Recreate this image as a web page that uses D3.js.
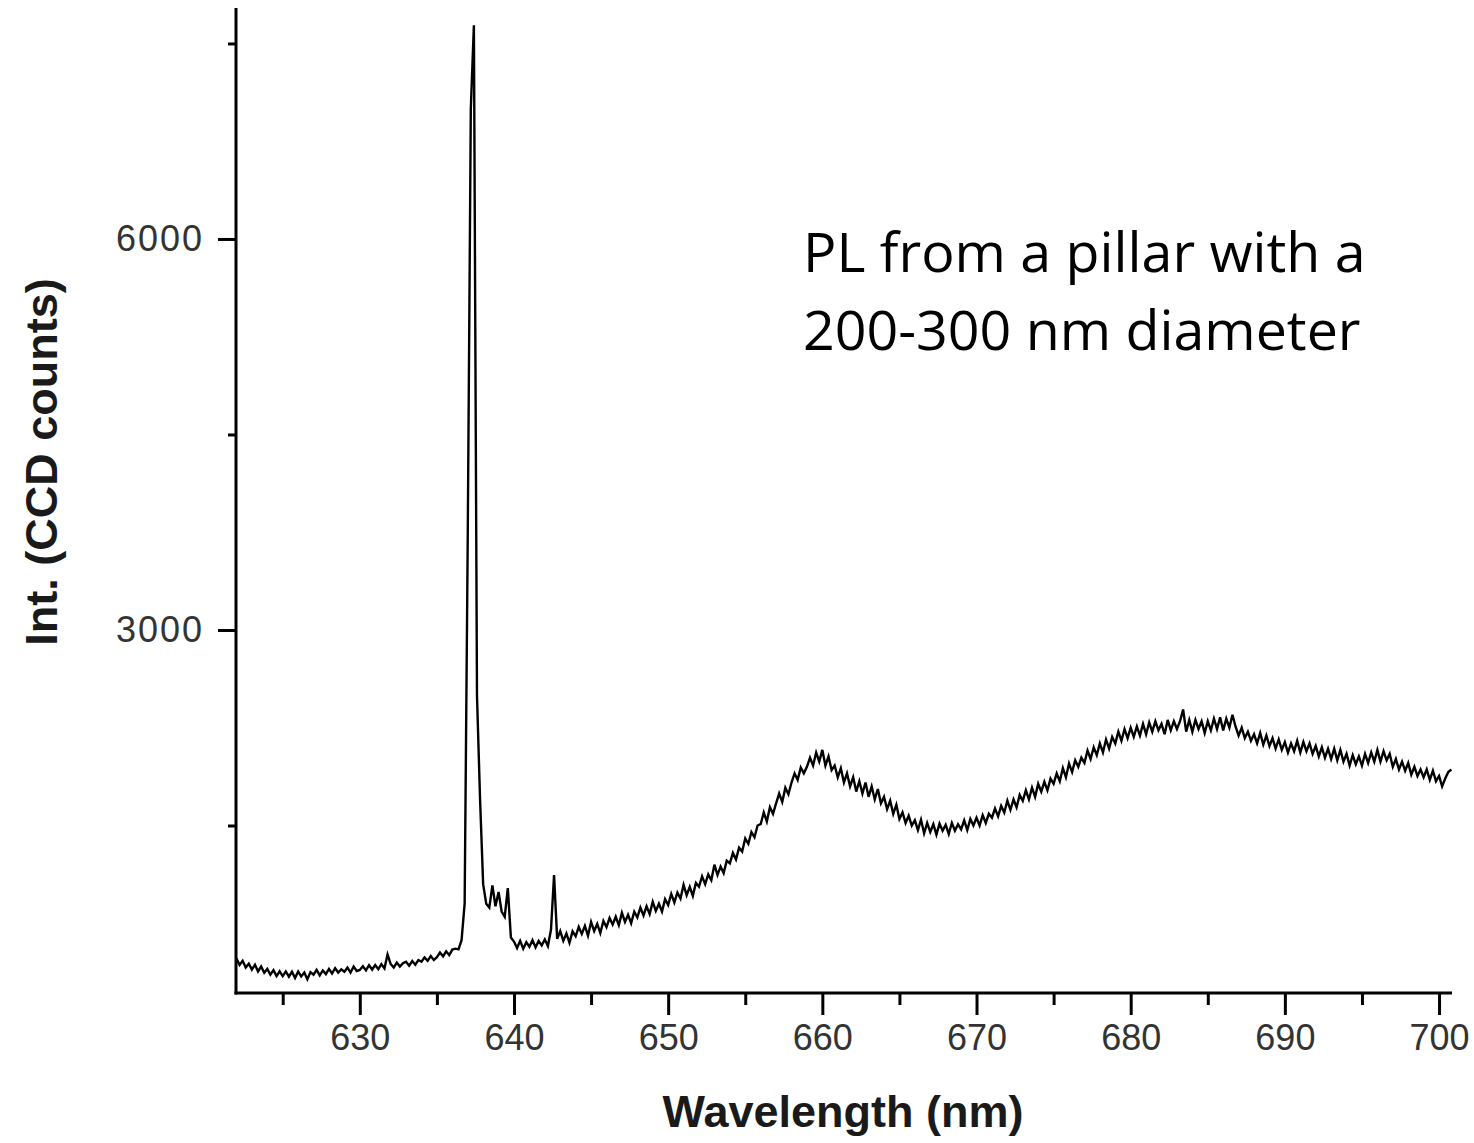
<!DOCTYPE html>
<html>
<head>
<meta charset="utf-8">
<script src="https://cdn.jsdelivr.net/npm/d3@7"></script>
<style>
  html, body { margin: 0; padding: 0; background: #fff; }
  svg { display: block; }
</style>
</head>
<body>
<svg id="chart" width="1474" height="1143"></svg>
<script>
// ---------------- data ----------------
const wavelengthStart = 622.0;
const wavelengthStep = 0.2;
const counts = [
  480, 430, 462, 410, 440,   // 622
  395, 432, 380, 418, 370,   // 623
  400, 355, 390, 345, 382,   // 624
  345, 380, 340, 378, 330,   // 625
  380, 342, 372, 320, 375,   // 626
  355, 392, 350, 388, 360,   // 627
  400, 365, 405, 372, 396,   // 628
  378, 410, 372, 418, 384,   // 629
  392, 420, 388, 428, 395,   // 630
  430, 398, 436, 404, 510,   // 631
  438, 410, 448, 418, 444,   // 632
  455, 425, 460, 432, 468,   // 633
  455, 488, 462, 498, 468,   // 634
  490, 525, 496, 535, 505,   // 635
  548, 555, 550, 620, 900,   // 636
  3700, 7000, 7640, 2500, 1700, // 637
  1050, 900, 870, 1040, 880, // 638
  990, 840, 800, 1020, 640,  // 639
  610, 560, 615, 555, 605,   // 640
  570, 620, 565, 615, 580,   // 641
  625, 575, 700, 1120, 630,  // 642
  690, 615, 672, 600, 688,   // 643
  650, 722, 668, 730, 655,   // 644
  760, 690, 745, 675, 768,   // 645
  720, 790, 740, 800, 735,   // 646
  830, 760, 815, 750, 838,   // 647
  795, 870, 810, 880, 820,   // 648
  915, 845, 900, 840, 935,   // 649
  890, 975, 910, 985, 940,   // 650
  1045, 965, 1030, 960, 1060, // 651
  1030, 1110, 1050, 1125, 1080, // 652
  1200, 1120, 1185, 1135, 1230, // 653
  1210, 1290, 1240, 1330, 1300, // 654
  1400, 1360, 1450, 1410, 1500, // 655
  1510, 1600, 1530, 1640, 1590, // 656
  1670, 1745, 1680, 1790, 1740, // 657
  1830, 1900, 1850, 1945, 1900, // 658
  1950, 2020, 1960, 2060, 1990, // 659
  2080, 1960, 2030, 1925, 1960, // 660
  1870, 1940, 1830, 1900, 1800, // 661
  1870, 1760, 1840, 1745, 1830, // 662
  1720, 1800, 1700, 1780, 1670, // 663
  1720, 1625, 1690, 1590, 1660, // 664
  1550, 1600, 1520, 1575, 1500, // 665
  1540, 1465, 1545, 1440, 1520, // 666
  1450, 1510, 1430, 1515, 1460, // 667
  1505, 1435, 1520, 1460, 1510, // 668
  1470, 1540, 1465, 1550, 1500, // 669
  1560, 1500, 1580, 1520, 1590, // 670
  1560, 1630, 1570, 1650, 1600, // 671
  1690, 1620, 1700, 1640, 1735, // 672
  1690, 1770, 1700, 1790, 1720, // 673
  1820, 1760, 1835, 1770, 1860, // 674
  1820, 1900, 1840, 1940, 1870, // 675
  1975, 1910, 2000, 1950, 2020, // 676
  1980, 2075, 2010, 2100, 2040, // 677
  2130, 2060, 2160, 2090, 2180, // 678
  2130, 2220, 2150, 2240, 2170, // 679
  2250, 2180, 2260, 2190, 2280, // 680
  2200, 2290, 2220, 2300, 2230, // 681
  2280, 2200, 2310, 2230, 2300, // 682
  2240, 2300, 2390, 2220, 2310, // 683
  2220, 2310, 2240, 2300, 2210, // 684
  2300, 2230, 2320, 2240, 2330, // 685
  2230, 2320, 2250, 2350, 2260, // 686
  2190, 2250, 2170, 2220, 2150, // 687
  2200, 2130, 2210, 2120, 2190, // 688
  2110, 2170, 2090, 2160, 2080, // 689
  2140, 2060, 2130, 2070, 2150, // 690
  2060, 2140, 2070, 2130, 2050, // 691
  2110, 2030, 2100, 2020, 2090, // 692
  2010, 2090, 2000, 2080, 1990, // 693
  2050, 1960, 2040, 1970, 2030, // 694
  1960, 2050, 1980, 2060, 1990, // 695
  2080, 1990, 2070, 2000, 2050, // 696
  1950, 2010, 1930, 1990, 1920, // 697
  1980, 1890, 1950, 1880, 1930, // 698
  1870, 1930, 1850, 1920, 1840, // 699
  1880, 1800, 1860, 1910, 1930  // 700
];

const xMajorTicks = [630, 640, 650, 660, 670, 680, 690, 700];
const xMinorTicks = [625, 635, 645, 655, 665, 675, 685, 695];
const yMajorTicks = [3000, 6000];
const yMinorTicks = [1500, 4500, 7500];

const xTitle = "Wavelength (nm)";
const yTitle = "Int. (CCD counts)";
const noteLines = ["PL from a pillar with a", "200-300 nm diameter"];

// ---------------- drawing ----------------
const svg = d3.select("#chart");

const x = d3.scaleLinear().domain([621.97, 700.84]).range([236, 1452]);
const y = d3.scaleLinear().domain([215, 7772]).range([993, 8]);

const points = counts.map((c, i) => ({ wl: wavelengthStart + i * wavelengthStep, c }));

const line = d3.line()
  .x(d => x(d.wl))
  .y(d => y(d.c));

svg.append("path")
  .datum(points)
  .attr("d", line)
  .attr("fill", "none")
  .attr("stroke", "#000")
  .attr("stroke-width", 2.4)
  .attr("stroke-linejoin", "miter");

const tickFont = "'Liberation Sans', Arial, sans-serif";

// x axis
const xMajor = svg.append("g")
  .attr("transform", "translate(0,993)")
  .call(d3.axisBottom(x).tickValues(xMajorTicks).tickSize(22).tickPadding(9).tickSizeOuter(0).tickFormat(d3.format("d")));
const xMinor = svg.append("g")
  .attr("transform", "translate(0,993)")
  .call(d3.axisBottom(x).tickValues(xMinorTicks).tickSize(12).tickSizeOuter(0).tickFormat(""));

// y axis
const yMajor = svg.append("g")
  .attr("transform", "translate(236,0)")
  .call(d3.axisLeft(y).tickValues(yMajorTicks).tickSize(18).tickPadding(14).tickSizeOuter(0).tickFormat(d3.format("d")));
const yMinor = svg.append("g")
  .attr("transform", "translate(236,0)")
  .call(d3.axisLeft(y).tickValues(yMinorTicks).tickSize(8).tickSizeOuter(0).tickFormat(""));

[xMajor, xMinor, yMajor, yMinor].forEach(g => {
  g.select(".domain").remove();
  g.selectAll(".tick line").attr("stroke", "#000").attr("stroke-width", 3);
  g.selectAll(".tick text")
    .attr("fill", "#333")
    .style("font-family", tickFont)
    .style("font-size", "36px");
});
yMajor.selectAll(".tick text").attr("letter-spacing", "2px");

// axis lines
svg.append("line")
  .attr("x1", x.range()[0]).attr("x2", x.range()[0])
  .attr("y1", y.range()[1]).attr("y2", y.range()[0] + 1.5)
  .attr("stroke", "#000").attr("stroke-width", 3);
svg.append("line")
  .attr("x1", x.range()[0] - 1.5).attr("x2", x.range()[1])
  .attr("y1", y.range()[0]).attr("y2", y.range()[0])
  .attr("stroke", "#000").attr("stroke-width", 3);

// axis titles
svg.append("text")
  .attr("x", 843).attr("y", 1127)
  .attr("text-anchor", "middle")
  .style("font-family", tickFont)
  .style("font-size", "45px")
  .style("font-weight", "bold")
  .attr("fill", "#1a1a1a")
  .text(xTitle);

svg.append("text")
  .attr("transform", "translate(57,462) rotate(-90)")
  .attr("text-anchor", "middle")
  .style("font-family", tickFont)
  .style("font-size", "45px")
  .style("font-weight", "bold")
  .attr("fill", "#1a1a1a")
  .text(yTitle);

// annotation
const note = svg.append("text")
  .style("font-family", "'Open Sans', 'Noto Sans', sans-serif")
  .style("font-size", "55.5px")
  .attr("fill", "#000");
noteLines.forEach((t, i) => {
  note.append("tspan").attr("x", 803).attr("y", 272 + i * 78).text(t);
});
</script>
</body>
</html>
